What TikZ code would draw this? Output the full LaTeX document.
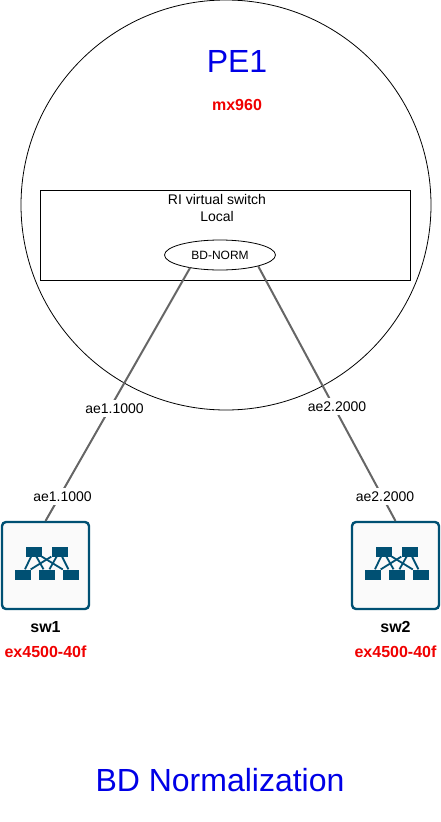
\documentclass[tikz,border=0pt]{standalone}
\usepackage{fontspec}
\setmainfont{Liberation Sans}
\usetikzlibrary{shapes.geometric}
\definecolor{linkgray}{HTML}{666666}
\definecolor{icondark}{HTML}{005073}
\definecolor{iconfill}{HTML}{FAFAFA}
\definecolor{titleblue}{HTML}{0000E6}
\definecolor{modelred}{HTML}{F00000}
\tikzset{
  link/.style={draw=linkgray, line width=2pt},
  ifname/.style={fill=white, inner xsep=2pt, inner ysep=4pt, font=\fontsize{14}{16}\selectfont},
  swbox/.style={draw=icondark, line width=2.4pt, fill=iconfill, rounded corners=4pt, minimum size=87pt, inner sep=0pt, outer sep=1pt},
  swcell/.style={fill=icondark, minimum width=16pt, minimum height=10pt, inner sep=0pt},
  swwire/.style={draw=icondark, line width=1.8pt},
  swname/.style={font=\fontsize{16}{18}\selectfont\bfseries},
  model/.style={text=modelred, font=\fontsize{16}{18}\selectfont\bfseries},
}
\begin{document}
\begin{tikzpicture}[x=1pt, y=-1pt]
\useasboundingbox (0,0) rectangle (441,822);
\node[circle, draw, line width=0.8pt, minimum size=410pt, inner sep=0pt, outer sep=0pt] (pe1) at (226,205){};
\node[text=titleblue, font=\fontsize{32}{38}\selectfont] (pe1name) at (237,61){PE1};
\node[model] (pe1model) at (237,105){mx960};
\node[draw, line width=0.8pt, minimum width=370pt, minimum height=90pt, inner sep=0pt, outer sep=0pt] (ri) at (225.5,235){};
\node[align=center, font=\fontsize{14}{17}\selectfont] (riname) at (217,207.5){RI virtual switch\\Local};
\node[ellipse, draw, line width=0.8pt, minimum width=111pt, minimum height=30pt, inner sep=0pt, outer sep=0pt, font=\fontsize{12}{14}\selectfont] (bd) at (220,255){BD-NORM};
\node[swbox] (sw1) at (45.5,565.5){};
\node[swcell] (sw1t1) at (33.5,551.5){};
\node[swcell] (sw1t2) at (59.5,551.5){};
\node[swcell] (sw1b1) at (22.5,574.5){};
\node[swcell] (sw1b2) at (46.5,574.5){};
\node[swcell] (sw1b3) at (71,574.5){};
\draw[swwire] (sw1t1) -- (sw1b1);
\draw[swwire] (sw1t1) -- (sw1b2);
\draw[swwire] (sw1t1) -- (sw1b3);
\draw[swwire] (sw1t2) -- (sw1b1);
\draw[swwire] (sw1t2) -- (sw1b2);
\draw[swwire] (sw1t2) -- (sw1b3);
\node[swname] (sw1name) at (45.5,627){sw1};
\node[model] (sw1model) at (45.5,652){ex4500-40f};
\node[swbox] (sw2) at (395.5,565.5){};
\node[swcell] (sw2t1) at (383.5,551.5){};
\node[swcell] (sw2t2) at (409.5,551.5){};
\node[swcell] (sw2b1) at (372.5,574.5){};
\node[swcell] (sw2b2) at (396.5,574.5){};
\node[swcell] (sw2b3) at (421,574.5){};
\draw[swwire] (sw2t1) -- (sw2b1);
\draw[swwire] (sw2t1) -- (sw2b2);
\draw[swwire] (sw2t1) -- (sw2b3);
\draw[swwire] (sw2t2) -- (sw2b1);
\draw[swwire] (sw2t2) -- (sw2b2);
\draw[swwire] (sw2t2) -- (sw2b3);
\node[swname] (sw2name) at (395.5,627){sw2};
\node[model] (sw2model) at (395.5,652){ex4500-40f};
\draw[link](bd.203) -- (sw1.north);
\draw[link](bd.344) -- (sw2.north);
\node[ifname] (ae1top) at (114.5,408.5){ae1.1000};
\node[ifname] (ae1low) at (62.5,496.5){ae1.1000};
\node[ifname] (ae2top) at (337,406.5){ae2.2000};
\node[ifname] (ae2low) at (385,496.5){ae2.2000};
\node[text=titleblue, font=\fontsize{32}{38}\selectfont] (title) at (220,780){BD Normalization};
\end{tikzpicture}
\end{document}
